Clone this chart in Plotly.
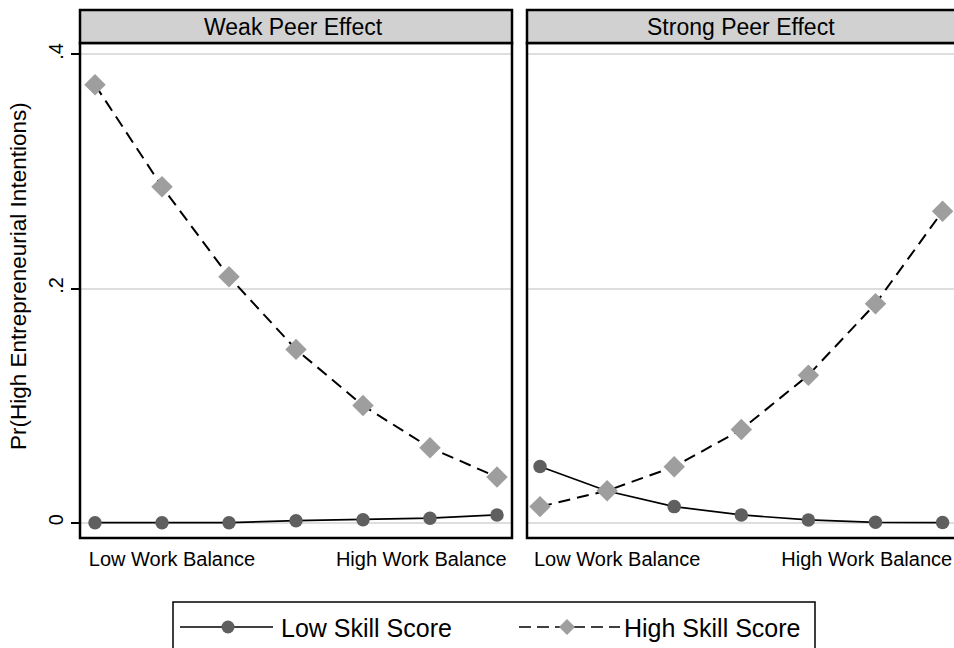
import plotly.graph_objects as go

# Predicted probabilities across seven work-balance levels
steps = [1, 2, 3, 4, 5, 6, 7]
panel_titles = ["Weak Peer Effect", "Strong Peer Effect"]
series_names = ["Low Skill Score", "High Skill Score"]

weak_low = [0.0, 0.0, 0.0, 0.0017, 0.0025, 0.0038, 0.0066]
weak_high = [0.374, 0.287, 0.210, 0.148, 0.100, 0.064, 0.039]
strong_low = [0.048, 0.027, 0.0137, 0.0066, 0.0023, 0.0003, 0.0001]
strong_high = [0.0137, 0.0273, 0.0478, 0.0795, 0.126, 0.187, 0.266]

x_tick_text = ["Low Work Balance", "High Work Balance"]
y_tick_vals = [0, 0.2, 0.4]
y_tick_text = ["0", ".2", ".4"]
y_title = "Pr(High Entrepreneurial Intentions)"

W, H = 954, 648
FONT = "Arial, Liberation Sans, sans-serif"
LOW_COLOR = "#5f5f5f"
HIGH_COLOR = "#9e9e9e"
GRID = "#dedede"


def fx(px):
    return px / W


def fy(py):
    return 1 - py / H


# panel geometry (pixels)
top, bottom = 43, 538
left_panel = (80, 512)
right_panel = (527, 954)
y_range = [-0.0131, 0.4097]

fig = go.Figure()

panels = [(weak_low, weak_high, "x", "y"), (strong_low, strong_high, "x2", "y2")]
for low, high, xa, ya in panels:
    fig.add_trace(go.Scatter(
        x=steps, y=low, xaxis=xa, yaxis=ya, mode="lines+markers",
        name=series_names[0], showlegend=False,
        line=dict(color="black", width=1.7),
        marker=dict(symbol="circle", size=13.5, color=LOW_COLOR),
    ))
    fig.add_trace(go.Scatter(
        x=steps, y=high, xaxis=xa, yaxis=ya, mode="lines+markers",
        name=series_names[1], showlegend=False,
        line=dict(color="black", width=2, dash="12px,7px"),
        marker=dict(symbol="diamond", size=16.5, color=HIGH_COLOR),
    ))

xaxis_common = dict(
    tickmode="array", tickvals=[2.15, 5.87], ticktext=x_tick_text,
    ticks="", showgrid=False, zeroline=False, showline=False,
    ticklabelstandoff=7,
    tickfont=dict(family=FONT, size=20, color="black"),
)
yaxis_common = dict(
    range=y_range, tickmode="array", tickvals=y_tick_vals,
    showgrid=True, gridcolor=GRID, gridwidth=1.5, zeroline=False,
    showline=False,
)

fig.update_layout(
    width=W, height=H,
    margin=dict(l=0, r=0, t=0, b=0),
    paper_bgcolor="white", plot_bgcolor="white",
    showlegend=False,
    xaxis=dict(domain=[fx(left_panel[0]), fx(left_panel[1])],
               range=[0.776, 7.224], anchor="y", **xaxis_common),
    xaxis2=dict(domain=[fx(right_panel[0]), 1.0],
                range=[0.806, 7.17], anchor="y2", **xaxis_common),
    yaxis=dict(domain=[fy(bottom), fy(top)], anchor="x",
               ticktext=y_tick_text, ticks="outside", ticklen=8,
               tickwidth=1.5, tickcolor="black", tickangle=-90,
               tickfont=dict(family=FONT, size=20, color="black"),
               **yaxis_common),
    yaxis2=dict(domain=[fy(bottom), fy(top)], anchor="x2",
                showticklabels=False, ticks="", **yaxis_common),
)

shapes = []
# plot frames
shapes.append(dict(type="rect", xref="paper", yref="paper",
                   x0=fx(left_panel[0]), x1=fx(left_panel[1]),
                   y0=fy(bottom), y1=fy(top),
                   line=dict(color="black", width=2.5), layer="above"))
shapes.append(dict(type="rect", xref="paper", yref="paper",
                   x0=fx(right_panel[0]), x1=fx(right_panel[1] + 10),
                   y0=fy(bottom), y1=fy(top),
                   line=dict(color="black", width=2.5), layer="above"))
# panel header strips
for (x0, x1) in [left_panel, (right_panel[0], right_panel[1] + 10)]:
    shapes.append(dict(type="rect", xref="paper", yref="paper",
                       x0=fx(x0), x1=fx(x1), y0=fy(top), y1=fy(10),
                       fillcolor="#d1d1d1",
                       line=dict(color="black", width=2.5), layer="above"))

# legend box and swatches
shapes.append(dict(type="rect", xref="paper", yref="paper",
                   x0=fx(173), x1=fx(815), y0=fy(665), y1=fy(602),
                   line=dict(color="black", width=1.5)))
leg_y = 627
shapes.append(dict(type="line", xref="paper", yref="paper",
                   x0=fx(180), x1=fx(273), y0=fy(leg_y), y1=fy(leg_y),
                   line=dict(color="black", width=1.7)))
r = 6.5
shapes.append(dict(type="circle", xref="paper", yref="paper",
                   x0=fx(228 - r), x1=fx(228 + r),
                   y0=fy(leg_y + r), y1=fy(leg_y - r),
                   fillcolor=LOW_COLOR, line=dict(width=0)))
shapes.append(dict(type="line", xref="paper", yref="paper",
                   x0=fx(519), x1=fx(620), y0=fy(leg_y), y1=fy(leg_y),
                   line=dict(color="black", width=1.7, dash="12px,6px")))
d = 8
cx = 567
diamond = (f"M {fx(cx)},{fy(leg_y - d)} L {fx(cx + d)},{fy(leg_y)} "
           f"L {fx(cx)},{fy(leg_y + d)} L {fx(cx - d)},{fy(leg_y)} Z")
shapes.append(dict(type="path", xref="paper", yref="paper", path=diamond,
                   fillcolor=HIGH_COLOR, line=dict(width=0)))

annotations = []
for title, cxp in zip(panel_titles, [293, 741]):
    annotations.append(dict(text=title, xref="paper", yref="paper",
                            x=fx(cxp), y=fy(26.5), xanchor="center", yanchor="middle",
                            showarrow=False,
                            font=dict(family=FONT, size=23, color="black")))
annotations.append(dict(text=y_title, xref="paper", yref="paper",
                        x=fx(18), y=fy(276), xanchor="center", yanchor="middle",
                        textangle=-90, showarrow=False,
                        font=dict(family=FONT, size=22.5, color="black")))
annotations.append(dict(text=series_names[0], xref="paper", yref="paper",
                        x=fx(279), y=fy(leg_y + 1), xanchor="left", yanchor="middle",
                        showarrow=False,
                        font=dict(family=FONT, size=25, color="black")))
annotations.append(dict(text=series_names[1], xref="paper", yref="paper",
                        x=fx(622), y=fy(leg_y + 1), xanchor="left", yanchor="middle",
                        showarrow=False,
                        font=dict(family=FONT, size=25, color="black")))

fig.update_layout(shapes=shapes, annotations=annotations)

fig.write_html("out.html")
